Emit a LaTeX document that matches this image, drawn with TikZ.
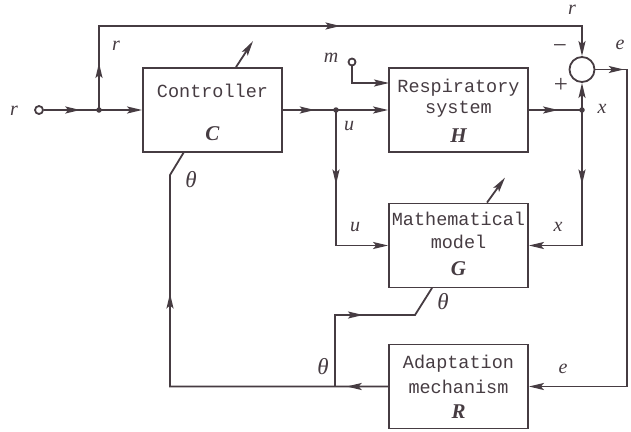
\documentclass[tikz,border=0pt]{standalone}
\usepackage{fontspec}
\newfontfamily\boxfont{Liberation Mono}
\newfontfamily\lblfont{Liberation Serif}
\usetikzlibrary{arrows.meta,decorations.markings,calc}
\definecolor{ink}{RGB}{70,60,66}
\begin{document}
\begin{tikzpicture}[x=1pt,y=-1pt,line width=1.8pt,draw=ink,text=ink,
  >={Stealth[length=15pt,width=7pt,inset=3pt]},
  blk/.style={draw,rectangle,minimum width=139pt,minimum height=84pt,inner sep=0pt},
  btxt/.style={font=\boxfont\fontsize{18.5}{20}\selectfont,anchor=base,inner sep=0pt},
  bsym/.style={font=\lblfont\bfseries\itshape\fontsize{21}{22}\selectfont,anchor=base,inner sep=0pt},
  lbl/.style={font=\lblfont\itshape\fontsize{20}{22}\selectfont,inner sep=0pt},
  tlbl/.style={font=\lblfont\itshape\fontsize{23}{24}\selectfont,inner sep=0pt},
  sgn/.style={font=\lblfont\fontsize{25}{25}\selectfont,inner sep=0pt},
  port/.style={draw,circle,fill=white,inner sep=0pt,minimum size=8pt},
  dot/.style={circle,fill=ink,inner sep=0pt,minimum size=5.5pt},
  midarr/.style={postaction={decorate,decoration={markings,
     mark=at position #1 with {\arrow{Stealth[length=15pt,width=7pt,inset=3pt]}}}}}]
\useasboundingbox (0,0) rectangle (631,431);

% blocks
\node[blk] (C) at (212.5,110) {};
\node[blk] (H) at (458.5,110) {};
\node[blk] (G) at (458.5,245.5) {};
\node[blk] (R) at (458.5,386.5) {};
\node[draw,circle,minimum size=25pt,inner sep=0pt] (S) at (582,69.5) {};

% block texts
\node[btxt] (Ct1) at (212.5,97) {Controller};
\node[bsym] (Ct2) at (212.5,140) {C};
\node[btxt] (Ht1) at (458.5,92) {Respiratory};
\node[btxt] (Ht2) at (458.5,113) {system};
\node[bsym] (Ht3) at (458.5,142) {H};
\node[btxt] (Gt1) at (458.5,225) {Mathematical};
\node[btxt] (Gt2) at (458.5,248) {model};
\node[bsym] (Gt3) at (458.5,275) {G};
\node[btxt] (Rt1) at (458.5,368) {Adaptation};
\node[btxt] (Rt2) at (458.5,393) {mechanism};
\node[bsym] (Rt3) at (458.5,418) {R};

% ports and junctions
\node[port] (rin) at (39,110) {};
\node[port,minimum size=7pt] (mi) at (352,62) {};
\coordinate (j1) at (99,110);
\coordinate (ju) at (336,110);
\coordinate (jx) at (582,110);
\coordinate (t1) at (99,26);
\coordinate (t2) at (582,26);
\coordinate (ec) at (627,69.5);
\coordinate (eb) at (627,386.5);
\coordinate (jt) at (335,386.5);
\coordinate (jt2) at (335,315);
\coordinate (gt) at (415,315);
\coordinate (gG) at (432,288);
\coordinate (th1) at (170,386.5);
\coordinate (th2) at (170,175);
\coordinate (cC) at (184,152);
\coordinate (mH) at (389,83);

% reference input
\draw[->] (rin) -- (j1) -- (C.west);
\draw[midarr=0.66] (rin) -- (j1);
% r feed-forward to comparator
\draw[->] (j1) -- (t1) -- (t2) -- (S.north);
\draw[midarr=0.56] (j1) -- (t1);
\draw[midarr=0.5] (t1) -- (t2);
% controller output u
\draw[->] (C.east) -- (ju) -- (H.west);
\draw[midarr=0.6] (C.east) -- (ju);
% disturbance m
\draw[->] (mi) |- (mH);
% plant output x
\draw (H.east) -- (jx);
\draw[midarr=0.55] (H.east) -- (jx);
\draw[->] (jx) -- (S.south);
\draw[->] (jx) |- (G.east);
\draw[midarr=0.55] (jx) -- (jx |- G.east);
\draw[->] (ju) |- (G.west);
\draw[midarr=0.55] (ju) -- (ju |- G.west);
% error e
\draw[->] (S.east) -- (ec) -- (eb) -- (R.east);
\draw[midarr=0.9] (S.east) -- (ec);
% theta from adaptation
\draw (R.west) -- (th1) -- (th2) -- (cC);
\draw[midarr=0.19] (R.west) -- (th1);
\draw[midarr=0.44] (th1) -- (th2);
\draw (jt) -- (jt2) -- (gt) -- (gG);
\draw[midarr=0.35] (jt2) -- (gt);
% adjustable arrows
\draw[->] ($(C.north)+(23.5,0)$) -- ++(17,-26);
\draw[->] ($(G.north)+(28.5,0)$) -- ++(18,-25);

\node[dot] (d1) at (j1) {};
\node[dot] (d2) at (ju) {};
\node[dot] (d3) at (jx) {};

% labels
\node[lbl] (lr1) at (14,111) {r};
\node[lbl] (lr2) at (116,46) {r};
\node[lbl] (lr3) at (572,10) {r};
\node[lbl] (lm) at (331,58) {m};
\node[lbl] (lu1) at (349,126) {u};
\node[lbl] (lu2) at (355,227) {u};
\node[lbl] (lx1) at (602,109) {x};
\node[lbl] (lx2) at (558,227) {x};
\node[lbl] (le1) at (620,45) {e};
\node[lbl] (le2) at (563,369) {e};
\node[tlbl] (lt1) at (191,180) {θ};
\node[tlbl] (lt2) at (443,302) {θ};
\node[tlbl] (lt3) at (323,367) {θ};
\node[sgn] (lmi) at (560,49) {−};
\node[sgn] (lpl) at (561,85) {+};
\end{tikzpicture}
\end{document}
